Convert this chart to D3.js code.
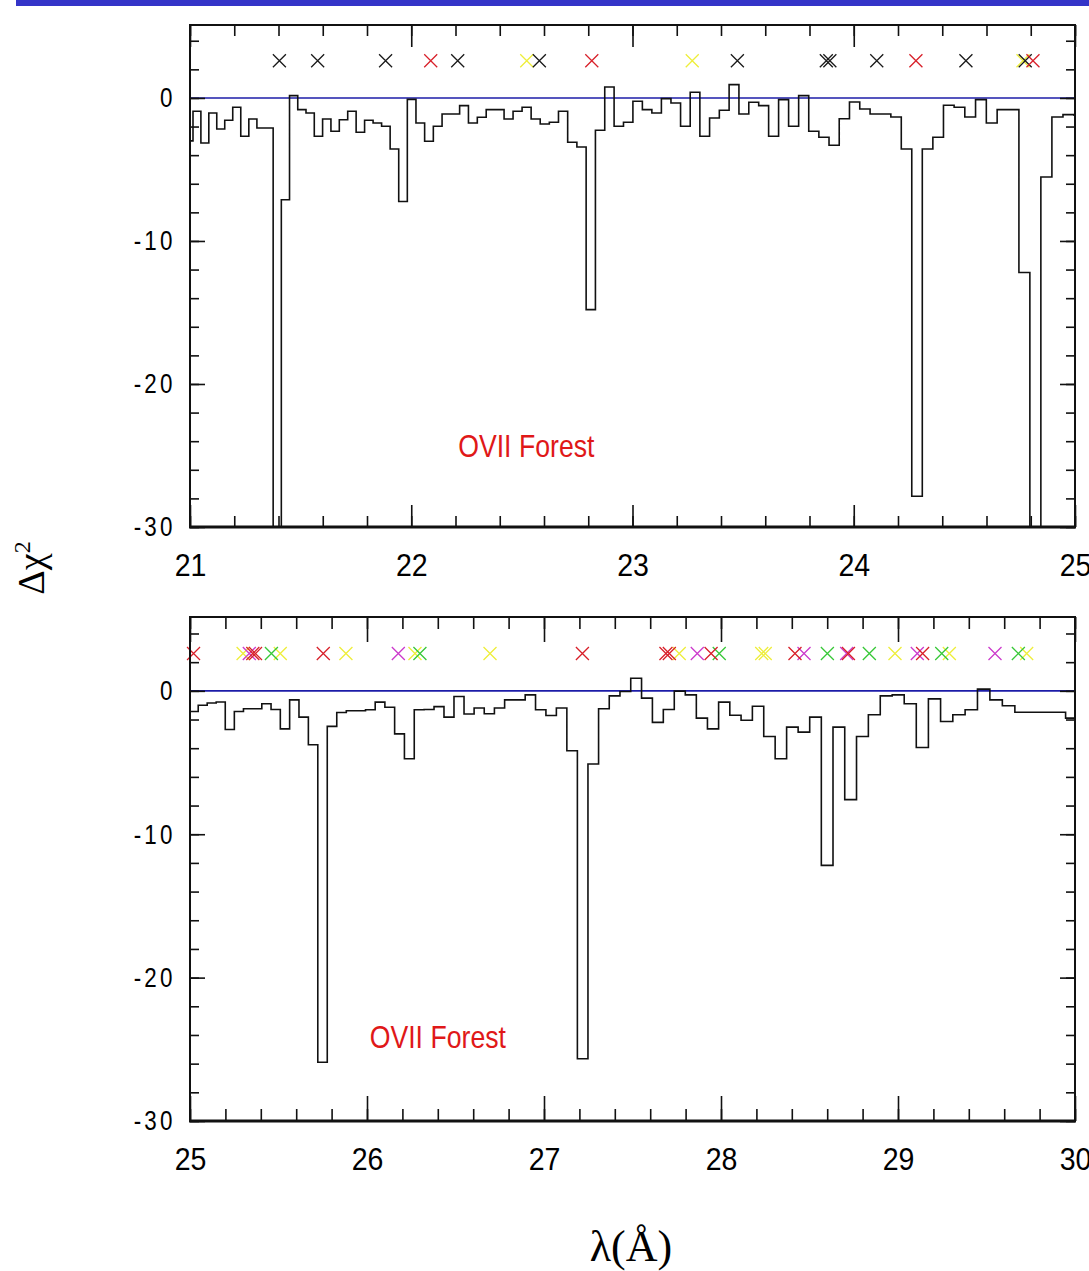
<!DOCTYPE html>
<html>
<head>
<meta charset="utf-8">
<script src="https://cdn.jsdelivr.net/npm/d3@7"></script>
<style>
  body { margin: 0; background: #fff; }
  svg { display: block; }
</style>
</head>
<body>
<div id="chart"></div>
<script>
// Delta chi^2 residuals in 1 eV bins, two wavelength windows
const HC = 12398; // eV * Angstrom

// upper window 21-25 A, bins run from 591 eV downwards (1 eV each)
const topStartEV = 591;
const topDchi = [
  -3.0, -0.93, -3.15, -1.05, -2.17, -1.56, -0.65, -2.68, -1.47, -2.1,
  -2.1, -35, -7.12, 0.16, -0.82, -1.05, -2.68, -1.47, -2.33, -1.52,
  -0.93, -2.4, -1.56, -1.75, -1.98, -3.57, -7.24, -0.1, -1.75, -3.03,
  -1.98, -1.12, -1.12, -0.54, -1.75, -1.35, -0.82, -0.82, -1.47, -0.93,
  -0.65, -1.47, -1.82, -1.7, -0.93, -3.1, -3.43, -14.8, -2.26, 0.77,
  -1.98, -1.7, -0.23, -0.82, -1.05, -0.05, -0.35, -1.98, 0.4, -2.68,
  -1.4, -0.86, 0.93, -1.12, -0.3, -0.54, -2.68, -0.12, -1.98, 0.16,
  -2.33, -2.75, -3.31, -1.45, -0.28, -0.77, -1.12, -1.12, -1.33, -3.57,
  -27.85, -3.57, -2.75, -0.51, -0.65, -1.33, -0.12, -1.75, -0.82, -0.82,
  -12.2, -35, -5.53, -1.33, -1.17, -1.2
];

// lower window 25-30 A, bins run from 496 eV downwards
const bottomStartEV = 496;
const bottomDchi = [
  -1.44, -1.0, -0.85, -0.78, -2.7, -1.44, -1.25, -1.25, -0.9, -1.3,
  -2.65, -0.63, -1.83, -3.76, -25.9, -2.48, -1.51, -1.39, -1.39, -1.32,
  -0.79, -1.14, -3.0, -4.74, -1.32, -1.3, -1.1, -1.83, -0.39, -1.62,
  -1.2, -1.6, -1.2, -0.63, -0.63, -0.28, -1.32, -1.72, -1.2, -4.18,
  -25.66, -5.1, -1.25, -0.35, -0.05, 0.88, -0.51, -2.2, -1.3, -0.02,
  -0.28, -1.9, -2.65, -0.79, -1.7, -2.05, -1.07, -3.18, -4.74, -2.53,
  -2.88, -1.83, -12.17, -2.53, -7.59, -3.18, -1.67, -0.35, -0.28, -0.9,
  -3.95, -0.56, -2.14, -1.67, -1.32, 0.12, -0.63, -1.04, -1.49, -1.49,
  -1.49, -1.49, -1.9
];

// line identifications (wavelength, A)
const topBlack = [21.404, 21.577, 21.884, 22.21, 22.579, 23.474, 23.876, 23.892, 24.104, 24.507, 24.775];
const topRed = [22.088, 22.816, 24.281, 24.81];
const topYellow = [22.522, 23.27, 24.765];

const bottomRed = [25.02, 25.355, 25.37, 25.753, 27.217, 27.689, 27.708, 27.944, 28.418, 28.72, 29.139];
const bottomYellow = [25.3, 25.51, 25.881, 26.271, 26.695, 27.764, 28.23, 28.25, 28.983, 29.29, 29.727];
const bottomMagenta = [25.335, 26.177, 27.866, 28.469, 28.71, 29.109, 29.548];
const bottomGreen = [25.46, 26.299, 27.99, 28.601, 28.838, 29.247, 29.68];

const yMajor = [0, -10, -20, -30];
const markerLevel = 2.6;

const width = 1089;
const height = 1271;

const svg = d3.select("#chart")
  .append("svg")
  .attr("width", width)
  .attr("height", height)
  .style("background", "#fff");

// blue strip along the top
svg.append("rect")
  .attr("x", 16).attr("y", 0)
  .attr("width", width - 16).attr("height", 6)
  .attr("fill", "#3434c8");

function drawPanel(cfg) {
  const left = 190, right = 1075;
  const x = d3.scaleLinear().domain(cfg.domain).range([left, right]);
  const y = d3.scaleLinear().domain([-30, cfg.ymax]).range([cfg.bottom, cfg.top]);

  const g = svg.append("g");

  g.append("clipPath").attr("id", cfg.id)
    .append("rect")
    .attr("x", left).attr("y", cfg.top)
    .attr("width", right - left).attr("height", cfg.bottom - cfg.top);

  // histogram steps
  const pts = [];
  cfg.values.forEach((v, i) => {
    let lo = HC / (cfg.startEV - i);
    let hi = HC / (cfg.startEV - i - 1);
    lo = Math.max(lo, cfg.domain[0]);
    hi = Math.min(hi, cfg.domain[1]);
    pts.push([lo, v], [hi, v]);
  });

  // zero line
  g.append("line")
    .attr("x1", left).attr("x2", right)
    .attr("y1", y(0)).attr("y2", y(0))
    .attr("stroke", "#1c1ca8")
    .attr("stroke-width", 1.6);

  g.append("path")
    .datum(pts)
    .attr("clip-path", "url(#" + cfg.id + ")")
    .attr("fill", "none")
    .attr("stroke", "#111")
    .attr("stroke-width", 1.6)
    .attr("d", d3.line().x(d => x(d[0])).y(d => y(d[1])));

  // line markers
  cfg.markers.forEach(m => {
    g.selectAll(null)
      .data(m.list)
      .enter()
      .append("path")
      .attr("transform", d => "translate(" + x(d) + "," + y(markerLevel) + ")")
      .attr("d", "M-6.5,-6.5L6.5,6.5M-6.5,6.5L6.5,-6.5")
      .attr("fill", "none")
      .attr("stroke", m.color)
      .attr("stroke-width", 1.3);
  });

  // ticks, all pointing inwards
  const xMinor = d3.range(cfg.domain[0], cfg.domain[1] + 0.001, 0.2);
  const xMajor = d3.range(cfg.domain[0], cfg.domain[1] + 0.001, 1);
  const yMinor = d3.range(-30, cfg.ymax, 2);

  const styleAxis = sel => {
    sel.select(".domain").remove();
    sel.selectAll("line").attr("stroke", "#111").attr("stroke-width", 1.6);
  };

  g.append("g").attr("transform", "translate(0," + cfg.bottom + ")")
    .call(d3.axisBottom(x).tickValues(xMinor).tickSize(-cfg.minorX).tickFormat(""))
    .call(styleAxis);
  const xb = g.append("g").attr("transform", "translate(0," + cfg.bottom + ")")
    .call(d3.axisBottom(x).tickValues(xMajor).tickSize(-cfg.majorX).tickPadding(cfg.labelPad).tickFormat(d => String(d)))
    .call(styleAxis);
  xb.selectAll("text")
    .attr("font-family", "'Liberation Sans', Arial, sans-serif")
    .attr("font-size", 31)
    .attr("fill", "#000")
    .attr("transform", "scale(0.92,1)");

  g.append("g").attr("transform", "translate(0," + cfg.top + ")")
    .call(d3.axisTop(x).tickValues(xMinor).tickSize(-cfg.minorX).tickFormat(""))
    .call(styleAxis);
  g.append("g").attr("transform", "translate(0," + cfg.top + ")")
    .call(d3.axisTop(x).tickValues(xMajor).tickSize(-cfg.majorX).tickFormat(""))
    .call(styleAxis);

  g.append("g").attr("transform", "translate(" + left + ",0)")
    .call(d3.axisLeft(y).tickValues(yMinor).tickSize(-9).tickFormat(""))
    .call(styleAxis);
  const yl = g.append("g").attr("transform", "translate(" + left + ",0)")
    .call(d3.axisLeft(y).tickValues(yMajor).tickSize(-15).tickPadding(18).tickFormat(d => String(d)))
    .call(styleAxis);
  yl.selectAll("text")
    .attr("font-family", "'Liberation Sans', Arial, sans-serif")
    .attr("font-size", 28)
    .attr("letter-spacing", 4)
    .attr("fill", "#000")
    .attr("transform", "scale(0.8,1)");

  g.append("g").attr("transform", "translate(" + right + ",0)")
    .call(d3.axisRight(y).tickValues(yMinor).tickSize(-9).tickFormat(""))
    .call(styleAxis);
  g.append("g").attr("transform", "translate(" + right + ",0)")
    .call(d3.axisRight(y).tickValues(yMajor).tickSize(-15).tickFormat(""))
    .call(styleAxis);

  // frame
  g.append("path")
    .attr("d", "M" + left + "," + cfg.bottom + "V" + cfg.top + "H" + right + "V" + cfg.bottom)
    .attr("fill", "none").attr("stroke", "#111").attr("stroke-width", 2);
  g.append("line")
    .attr("x1", left - 1).attr("x2", right + 1)
    .attr("y1", cfg.bottom).attr("y2", cfg.bottom)
    .attr("stroke", "#111").attr("stroke-width", 3);

  g.append("text")
    .attr("transform", "translate(" + x(cfg.note[0]) + "," + y(cfg.note[1]) + ") scale(0.86,1)")
    .attr("text-anchor", "middle")
    .attr("font-family", "'Liberation Sans', Arial, sans-serif")
    .attr("font-size", 31)
    .attr("fill", "#e01818")
    .text("OVII Forest");
}

drawPanel({
  id: "clipTop",
  domain: [21, 25],
  ymax: 5.1,
  top: 25,
  bottom: 527,
  startEV: topStartEV,
  values: topDchi,
  markers: [
    { list: topYellow, color: "#eeee3a" },
    { list: topBlack, color: "#1a1a1a" },
    { list: topRed, color: "#d8202a" }
  ],
  majorX: 22,
  minorX: 11,
  labelPad: 27,
  note: [22.52, -25.1]
});

drawPanel({
  id: "clipBottom",
  domain: [25, 30],
  ymax: 5.15,
  top: 617,
  bottom: 1121,
  startEV: bottomStartEV,
  values: bottomDchi,
  markers: [
    { list: bottomYellow, color: "#eeee3a" },
    { list: bottomGreen, color: "#38c838" },
    { list: bottomMagenta, color: "#cc3acc" },
    { list: bottomRed, color: "#d8202a" }
  ],
  majorX: 25,
  minorX: 12,
  labelPad: 27,
  note: [26.4, -24.9]
});

// axis titles
svg.append("text")
  .attr("transform", "translate(44,568) rotate(-90)")
  .attr("text-anchor", "middle")
  .attr("font-family", "'Liberation Serif', 'Times New Roman', serif")
  .attr("font-size", 38)
  .attr("fill", "#000")
  .text("Δχ")
  .append("tspan")
  .attr("dy", -14)
  .attr("font-size", 24)
  .text("2");

svg.append("text")
  .attr("x", 631)
  .attr("y", 1261)
  .attr("text-anchor", "middle")
  .attr("font-family", "'Liberation Serif', 'Times New Roman', serif")
  .attr("font-size", 44)
  .attr("fill", "#000")
  .text("λ(Å)");
</script>
</body>
</html>
